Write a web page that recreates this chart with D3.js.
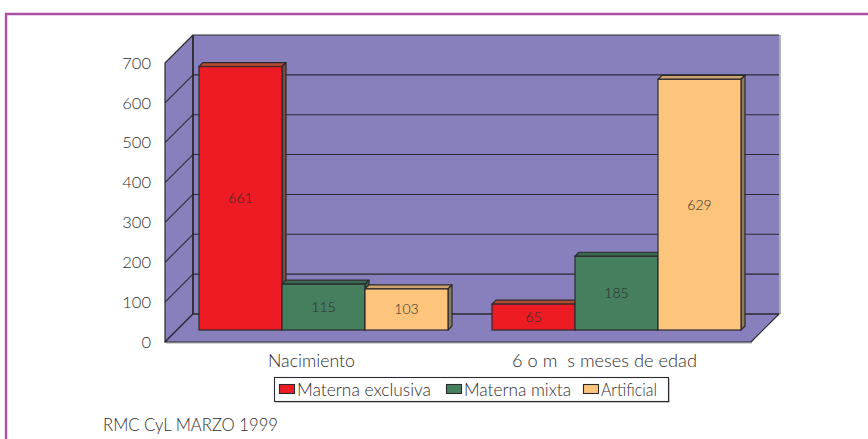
<!DOCTYPE html>
<html><head><meta charset="utf-8">
<script src="https://cdnjs.cloudflare.com/ajax/libs/d3/7.8.5/d3.min.js"></script>
<style>html,body{margin:0;padding:0;background:#fff}svg{display:block}text{font-family:"Lato",sans-serif;font-weight:300;fill:#2f2d2e}</style>
</head><body><svg id="c" width="868" height="439"></svg>
<script>
const categories=["Nacimiento","6 o m  s meses de edad"];
const seriesNames=["Materna exclusiva","Materna mixta","Artificial"];
const exclusiva=[661,65];
const mixta=[115,185];
const artificial=[103,629];
const tickValues=[0,100,200,300,400,500,600,700];
const colors=["#ed1c24","#457f5e","#fdc47b"];
const topColors=["#b5482f","#3b6a50","#cda26c"];
const sideColors=["#7a4a3c","#3a5e4a","#8f7a5f"];
const source="RMC CyL MARZO 1999";
const series=[exclusiva,mixta,artificial];
const ink="#2b2a2e",wall="#8880bc";
const svg=d3.select("#c");
svg.append("path").attr("d","M6,439V14H868").attr("fill","none").attr("stroke","#ab52a2").attr("stroke-width",2.4);
const y=d3.scaleLinear().domain([0,700]).range([342,63]);
const depth=28,barDepth=4,barInset=12;
const x0=d3.scaleBand().domain(categories).range([165,751]);
const x1=d3.scaleBand().domain(seriesNames).range([0,249]);
const g=svg.append("g");
const poly=(pts,fill,sw=1.2)=>g.append("polygon").attr("points",pts.map(p=>p.join(",")).join(" ")).attr("fill",fill).attr("stroke",ink).attr("stroke-width",sw).attr("stroke-linejoin","round");
const xL=x0.range()[0],xR=x0.range()[1];
g.append("line").attr("x1",xR+depth+1).attr("x2",xR+depth+1).attr("y1",y(700)-depth).attr("y2",y(0)-depth).attr("stroke","#8f8f98").attr("stroke-width",1.4);
g.append("line").attr("x1",xL+1).attr("x2",xR+1).attr("y1",y(0)+1).attr("y2",y(0)+1).attr("stroke","#aaa").attr("stroke-width",1);
g.append("rect").attr("x",xL+depth).attr("y",y(700)-depth).attr("width",xR-xL).attr("height",y(0)-y(700)).attr("fill",wall);
g.append("line").attr("x1",xL+depth).attr("x2",xR+depth).attr("y1",y(700)-depth).attr("y2",y(700)-depth).attr("stroke",ink).attr("stroke-width",1.2);
poly([[xL,y(0)],[xL+depth,y(0)-depth],[xL+depth,y(700)-depth],[xL,y(700)]],wall);
poly([[xL,y(0)],[xR,y(0)],[xR+depth,y(0)-depth],[xL+depth,y(0)-depth]],wall);
tickValues.slice(1,-1).forEach(t=>{
 g.append("line").attr("x1",xL+depth).attr("x2",xR+depth).attr("y1",y(t)-depth).attr("y2",y(t)-depth).attr("stroke",ink).attr("stroke-width",1.1);
 g.append("line").attr("x1",xL).attr("x2",xL+depth).attr("y1",y(t)).attr("y2",y(t)-depth).attr("stroke",ink).attr("stroke-width",1.1);
});
g.append("line").attr("x1",xL+depth).attr("x2",xR+depth).attr("y1",y(0)-depth).attr("y2",y(0)-depth).attr("stroke",ink).attr("stroke-width",1.1);
g.append("line").attr("x1",xL+depth).attr("x2",xL+depth).attr("y1",y(700)-depth).attr("y2",y(0)-depth).attr("stroke",ink).attr("stroke-width",1.6);
const grpOffset=(x0.bandwidth()-x1.range()[1])/2;
const labels=[];
categories.forEach((c,ci)=>{
 seriesNames.forEach((s,si)=>{
  const v=series[si][ci];
  const l=x0(c)+grpOffset+barInset+x1(s),r=l+x1.bandwidth();
  const t=y(v)-barInset,b=y(0)-barInset,d=barDepth;
  poly([[l,t],[r,t],[r+d,t-d],[l+d,t-d]],topColors[si]);
  poly([[r,t],[r+d,t-d],[r+d,b-d],[r,b]],sideColors[si]);
  g.append("rect").attr("x",l).attr("y",t).attr("width",r-l).attr("height",b-t).attr("fill",colors[si]).attr("stroke",ink).attr("stroke-width",1.2);
  labels.push({x:(l+r)/2,y:(t+b)/2,v});
 });
});
labels.forEach(d=>svg.append("text").attr("x",d.x).attr("y",d.y+5).attr("text-anchor","middle").attr("font-size",14).text(d.v));
const ax=d3.axisLeft(y).tickValues(tickValues).tickSize(0).tickPadding(14);
const axG=svg.append("g").attr("transform",`translate(${xL},0)`).call(ax);
axG.select(".domain").remove();
axG.selectAll("text").attr("font-size",16.5).style("font-family",'"Lato",sans-serif').attr("fill","#2f2d2e");
const catWidths=[87,185];
categories.forEach((c,i)=>svg.append("text").attr("x",x0(c)+x0.bandwidth()/2).attr("y",367).attr("text-anchor","middle").attr("font-size",17.5).attr("textLength",catWidths[i]).attr("lengthAdjust","spacingAndGlyphs").style("white-space","pre").text(c));
svg.append("rect").attr("x",275.5).attr("y",378.5).attr("width",394).attr("height",24).attr("fill","#999");
svg.append("rect").attr("x",274.5).attr("y",377.5).attr("width",394).attr("height",24).attr("fill","#fff").attr("stroke",ink).attr("stroke-width",1.1);
const legPos=[279,446,583],legWidths=[134,107,56];
seriesNames.forEach((s,i)=>{
 svg.append("rect").attr("x",legPos[i]+.5).attr("y",384.5).attr("width",15).attr("height",9).attr("fill",colors[i]).attr("stroke",ink).attr("stroke-width",1.1);
 svg.append("text").attr("x",legPos[i]+18).attr("y",396).attr("font-size",17.5).attr("textLength",legWidths[i]).attr("lengthAdjust","spacingAndGlyphs").text(s);
});
svg.append("text").attr("x",103).attr("y",431).attr("font-size",17).attr("textLength",175).attr("lengthAdjust","spacingAndGlyphs").text(source);
</script></body></html>
